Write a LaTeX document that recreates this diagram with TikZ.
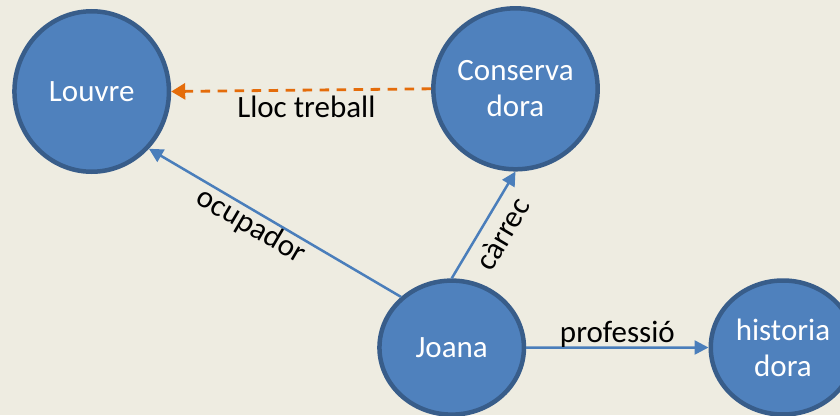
\documentclass[tikz,border=0pt]{standalone}
\usepackage{fontspec}
\setmainfont{Carlito}
\usetikzlibrary{arrows.meta,shapes.geometric}
\definecolor{bg}{HTML}{EEECE1}
\definecolor{nodefill}{HTML}{4F81BD}
\definecolor{nodeborder}{HTML}{385D8A}
\definecolor{linkblue}{HTML}{4A7EBB}
\definecolor{linkorange}{HTML}{E46C0A}
\begin{document}
\begin{tikzpicture}[x=1pt,y=-1pt,
  entity/.style={ellipse, draw=nodeborder, fill=nodefill, line width=4.5pt, text=white,
    font=\fontsize{31}{36}\selectfont, align=center, inner sep=0pt},
  link/.style={draw=linkblue, line width=2.5pt, -{Triangle[length=14pt,width=14pt]}},
  dlink/.style={draw=linkorange, line width=2.8pt, dash pattern=on 9.5pt off 7.5pt,
    -{Triangle[length=14pt,width=16pt]}},
  lbl/.style={font=\fontsize{31}{36}\selectfont, inner sep=0pt, outer xsep=0pt, text=black}]
\fill[bg] (0,0) rectangle (840,415);
\useasboundingbox (0,0) rectangle (840,415);
\node[entity, minimum width=154.5pt, minimum height=160.5pt] (louvre) at (91.7,91.5) {Louvre};
\node[entity, minimum width=158pt, minimum height=161pt] (cons) at (515.5,88.8) {Conserva\\dora};
\node[entity, minimum width=144.5pt, minimum height=134pt] (joana) at (451.7,347.6) {Joana};
\node[entity, minimum width=144.5pt, minimum height=134pt] (hist) at (783,347.5) {historia\\dora};
\draw[dlink] (cons.west) -- node[lbl, pos=0.48, anchor=north, outer ysep=6pt] {Lloc treball} (louvre.east);
\draw[link] (joana.135) -- node[lbl, pos=0.565, sloped, anchor=north, outer ysep=2pt] {ocupador} (louvre.-45);
\draw[link] (joana.north) -- node[lbl, pos=0.52, sloped, anchor=north, outer ysep=10pt] {càrrec} (cons.south);
\draw[link] (joana.east) -- node[lbl, pos=0.5, anchor=south, outer ysep=0pt] {professió} (hist.west);
\end{tikzpicture}
\end{document}
